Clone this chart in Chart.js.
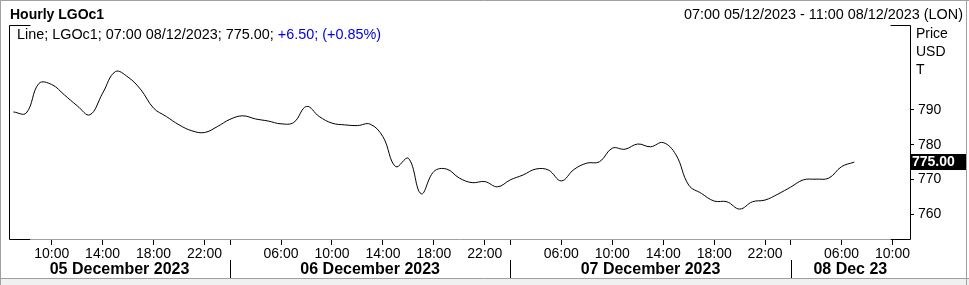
<!DOCTYPE html>
<html>
<head>
<meta charset="utf-8">
<title>Hourly LGOc1</title>
<script src="https://cdn.jsdelivr.net/npm/chart.js@4"></script>
<style>
  body { margin: 0; background: #fff; }
  canvas { display: block; }
</style>
</head>
<body>
<canvas id="lgo-chart" width="969" height="285"></canvas>
<script>
// trading sessions shown: [date, first hour, last hour] (ICE gasoil, hourly bars)
const sessions = [
    ['05/12/2023', 7, 22],
    ['06/12/2023', 1, 22],
    ['07/12/2023', 1, 22],
    ['08/12/2023', 1, 11]
];
const dayLabels = ['05 December 2023', '06 December 2023', '07 December 2023', '08 Dec 23'];
const tickHours = [2, 6, 10, 14, 18, 22];   // 02:00 is the day mark, no label
const yTicks = [760, 770, 780, 790];

// hourly prices, 07:00 05/12 .. 07:00 08/12
const prices = [
    789.4, 789.1, 797.6, 797.3, 794.3, 791.2, 788.6, 794.8, 801.0, 799.4,
    795.8, 790.5, 788.1, 785.7, 784.0, 783.5, 785.2, 787.3, 788.3, 787.4,
    786.8, 786.0, 786.4, 791.0, 788.1, 786.2, 785.7, 785.5, 785.9, 782.3,
    773.7, 776.1, 765.9, 772.3, 773.0, 770.4, 769.1, 769.4, 767.9, 769.9,
    771.3, 773.0, 772.7, 769.6, 772.9, 774.7, 775.1, 779.0, 778.7, 780.2,
    779.4, 780.6, 777.1, 768.4, 766.0, 763.8, 763.6, 761.5, 763.6, 764.1,
    765.8, 767.8, 769.9, 770.1, 770.4, 773.7, 775.0
];
const change = 6.50;
const changePct = 0.85;

// one category per bar
let barHours = [];
let barDays = [];
sessions.forEach((s, d) => {
    for (let h = s[1]; h <= s[2]; h++) {
        barHours.push(h);
        barDays.push(d);
    }
});

function hh(h) {
    return (h < 10 ? '0' : '') + h + ':00';
}

const FONT = '"Liberation Sans", Arial, sans-serif';
const lastIdx = prices.length - 1;
const lastTime = hh(barHours[lastIdx]) + ' ' + sessions[barDays[lastIdx]][0];

const decor = {
    id: 'decor',
    afterDraw(chart) {
        const ctx = chart.ctx;
        const a = chart.chartArea;
        const xs = chart.scales.x;
        const ys = chart.scales.y;
        ctx.save();

        // window frame
        ctx.fillStyle = '#f0f0f0';
        ctx.fillRect(0, 279, 969, 6);
        ctx.strokeStyle = '#a0a0a0';
        ctx.lineWidth = 1;
        ctx.beginPath();
        ctx.moveTo(0.5, 0); ctx.lineTo(0.5, 285);
        ctx.moveTo(0, 0.5); ctx.lineTo(969, 0.5);
        ctx.moveTo(966.5, 0); ctx.lineTo(966.5, 285);
        ctx.moveTo(0, 278.5); ctx.lineTo(969, 278.5);
        ctx.stroke();

        // plot frame
        const L = Math.round(a.left) + 0.5, R = Math.round(a.right) + 0.5;
        const T = Math.round(a.top) + 0.5, B = Math.round(a.bottom) + 0.5;
        ctx.strokeStyle = '#000';
        ctx.beginPath();
        ctx.moveTo(L, T); ctx.lineTo(L, B); ctx.lineTo(L + 21, B);
        ctx.moveTo(L, T); ctx.lineTo(L + 21, T);
        ctx.moveTo(R - 20, T); ctx.lineTo(R, T); ctx.lineTo(R, B); ctx.lineTo(R - 20, B);
        ctx.stroke();
        ctx.strokeStyle = '#a0a0a0';
        ctx.beginPath();
        ctx.moveTo(L + 21, B); ctx.lineTo(R - 20, B);
        ctx.stroke();

        // headers
        ctx.fillStyle = '#000';
        ctx.textBaseline = 'alphabetic';
        ctx.font = 'bold 14px ' + FONT;
        ctx.textAlign = 'left';
        ctx.fillText('Hourly LGOc1', 10, 19);
        ctx.font = '14.4px ' + FONT;
        ctx.textAlign = 'right';
        ctx.fillText('07:00 05/12/2023 - 11:00 08/12/2023 (LON)', 963, 19);

        // legend line
        ctx.textAlign = 'left';
        let head = 'Line; LGOc1; ' + lastTime + '; ' + prices[lastIdx].toFixed(2) + '; ';
        ctx.fillText(head, 17, 38.5);
        let w = ctx.measureText(head).width;
        ctx.fillStyle = '#0000e0';
        ctx.fillText('+' + change.toFixed(2) + '; (+' + changePct.toFixed(2) + '%)', 17 + w, 38.5);

        // y axis title
        ctx.fillStyle = '#000';
        ctx.font = '14px ' + FONT;
        ctx.fillText('Price', 916, 37.5);
        ctx.fillText('USD', 916, 56);
        ctx.fillText('T', 916, 74);

        // last value tag
        const yl = ys.getPixelForValue(prices[lastIdx]);
        ctx.fillRect(a.right + 1, Math.round(yl) - 8, 55, 16);
        ctx.fillStyle = '#fff';
        ctx.font = 'bold 14px ' + FONT;
        ctx.textBaseline = 'middle';
        ctx.fillText(prices[lastIdx].toFixed(2), a.right + 2, Math.round(yl) + 0.5);

        // day separators and day labels
        let bounds = [a.left];
        barHours.forEach((h, i) => {
            if (h === 2) bounds.push(xs.getPixelForValue(i));
        });
        bounds.push(a.right);
        ctx.strokeStyle = '#000';
        ctx.beginPath();
        for (let k = 1; k < bounds.length - 1; k++) {
            const x = Math.round(bounds[k]) + 0.5;
            ctx.moveTo(x, 260); ctx.lineTo(x, 278);
        }
        ctx.stroke();
        ctx.fillStyle = '#000';
        ctx.font = 'bold 16px ' + FONT;
        ctx.textAlign = 'center';
        ctx.textBaseline = 'alphabetic';
        dayLabels.forEach((t, k) => {
            ctx.fillText(t, (bounds[k] + bounds[k + 1]) / 2, 274);
        });
        ctx.restore();
    }
};

new Chart('lgo-chart', {
    type: 'line',
    data: {
        datasets: [{
            label: 'LGOc1',
            data: prices.map((v, i) => ({ x: i, y: v })),
            borderColor: '#000',
            borderWidth: 1,
            pointRadius: 0,
            fill: false,
            tension: 0.4
        }]
    },
    options: {
        responsive: false,
        animation: false,
        layout: { padding: { left: 9, top: 25, right: 0, bottom: 0 } },
        plugins: {
            legend: { display: false },
            tooltip: { enabled: false }
        },
        scales: {
            x: {
                type: 'linear',
                min: -0.35,
                max: 70.37,
                afterBuildTicks: s => {
                    s.ticks = [];
                    barHours.forEach((h, i) => {
                        if (tickHours.includes(h)) s.ticks.push({ value: i });
                    });
                },
                afterFit: s => { s.height = 46; },
                border: { display: false },
                grid: { drawOnChartArea: false, drawTicks: true, tickLength: 6, color: '#000' },
                ticks: {
                    autoSkip: false,
                    maxRotation: 0,
                    padding: 1,
                    color: '#000',
                    font: { family: FONT, size: 14 },
                    callback: v => barHours[v] === 2 ? '' : hh(barHours[v])
                }
            },
            y: {
                position: 'right',
                min: 752.9,
                max: 814.4,
                afterBuildTicks: s => { s.ticks = yTicks.map(v => ({ value: v })); },
                afterFit: s => { s.width = 59; },
                border: { display: false },
                grid: { drawOnChartArea: false, drawTicks: true, tickLength: 4, color: '#000' },
                ticks: {
                    padding: 4,
                    color: '#000',
                    font: { family: FONT, size: 14 }
                }
            }
        }
    },
    plugins: [decor]
});
</script>
</body>
</html>
